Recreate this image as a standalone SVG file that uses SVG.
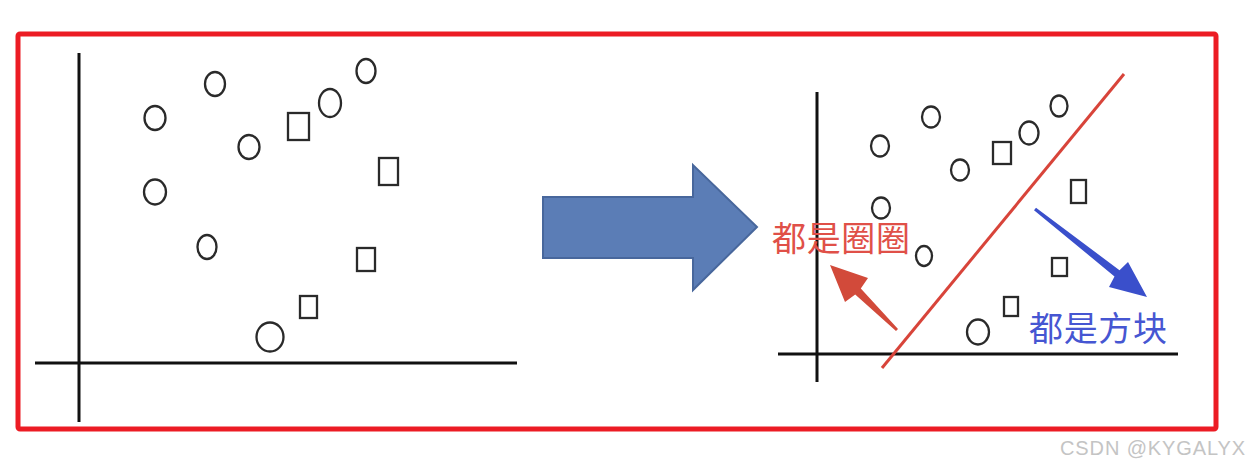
<svg xmlns="http://www.w3.org/2000/svg" width="1250" height="472" viewBox="0 0 1250 472">
<style>
.axis{stroke:#111;stroke-width:3;fill:none}
.pt{fill:none;stroke:#2a2a2a;stroke-width:2.3}
.cn{font-family:"Noto Sans CJK SC","Noto Sans",sans-serif;font-size:34px}
</style>
<rect width="1250" height="472" fill="#fff"/>
<rect id="frame" x="18" y="34" width="1198" height="395" rx="2" fill="none" stroke="#ec1c24" stroke-width="5"/>
<g id="left-plot">
<line class="axis" x1="79" y1="53" x2="79" y2="422"/>
<line class="axis" x1="35" y1="363" x2="517" y2="363"/>
<ellipse class="pt" cx="155" cy="118" rx="10.5" ry="12"/>
<ellipse class="pt" cx="215" cy="84" rx="10" ry="12"/>
<ellipse class="pt" cx="249" cy="147" rx="10.5" ry="12"/>
<rect class="pt" x="288" y="113" width="21" height="27"/>
<ellipse class="pt" cx="330" cy="103" rx="11" ry="14"/>
<ellipse class="pt" cx="366" cy="71" rx="9.5" ry="12"/>
<rect class="pt" x="379" y="158" width="19" height="27"/>
<ellipse class="pt" cx="155" cy="192" rx="11" ry="12.5"/>
<ellipse class="pt" cx="207" cy="247" rx="9.5" ry="12"/>
<rect class="pt" x="357" y="248" width="18" height="23"/>
<rect class="pt" x="300" y="296" width="17" height="22"/>
<ellipse class="pt" cx="270" cy="337" rx="13.5" ry="14.5"/>
</g>
<g id="big-arrow">
<polygon points="543,197 693,197 693,165 757,227 693,290 693,258 543,258" fill="#5b7db6" stroke="#48679c" stroke-width="2"/>
</g>
<g id="right-plot">
<line class="axis" x1="817" y1="92" x2="817" y2="382"/>
<line class="axis" x1="778" y1="354" x2="1178" y2="354"/>
<ellipse class="pt" cx="880" cy="146" rx="9" ry="10.5"/>
<ellipse class="pt" cx="931" cy="117" rx="9" ry="10.5"/>
<ellipse class="pt" cx="960" cy="170" rx="9" ry="10.5"/>
<rect class="pt" x="993" y="142" width="18" height="22"/>
<ellipse class="pt" cx="1029" cy="133" rx="9.5" ry="11.5"/>
<ellipse class="pt" cx="1059" cy="106" rx="8.5" ry="10.5"/>
<ellipse class="pt" cx="881" cy="208" rx="9" ry="10.5"/>
<ellipse class="pt" cx="924" cy="256" rx="8" ry="10"/>
<rect class="pt" x="1071" y="180" width="15" height="23"/>
<rect class="pt" x="1052" y="258" width="15" height="18"/>
<rect class="pt" x="1004" y="297" width="14" height="19"/>
<ellipse class="pt" cx="978" cy="332" rx="11" ry="12.5"/>
</g>
<g id="connectors">
<line id="divider" x1="882" y1="368" x2="1124" y2="74" stroke="#d8443a" stroke-width="3"/>
<polygon id="red-arrow" points="898,329 860.8,288.6 868,278 830,265 845,302 855.2,294.4 896,331" fill="#d24a3a"/>
<polygon id="blue-arrow" points="1036,207.8 1119.5,270.2 1128,262 1147,297 1109,287 1114.5,276.4 1034,210.2" fill="#3a4fcb"/>
</g>
<g id="labels">
<text id="label-circles" class="cn" x="772" y="251" fill="#e05048" textLength="138">都是圈圈</text>
<text id="label-squares" class="cn" x="1029" y="341" fill="#4656d2" textLength="138">都是方块</text>
</g>
<text id="watermark" x="1060" y="455" font-family="Liberation Sans, Arial, sans-serif" font-size="20" fill="#c4c4c4" textLength="185">CSDN @KYGALYX</text>
</svg>
